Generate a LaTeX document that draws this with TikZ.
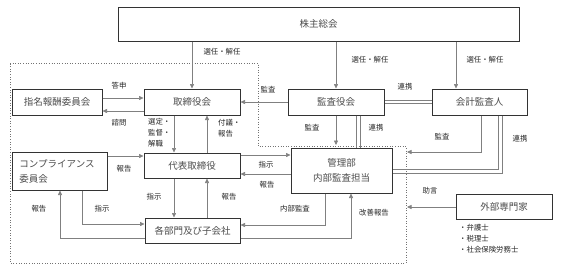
\documentclass[tikz,border=0pt]{standalone}
\usepackage{fontspec}
\setmainfont{Noto Sans CJK JP}
\usetikzlibrary{arrows.meta}
\tikzset{
  box/.style={draw=black!80, line width=1pt, inner sep=0pt, align=center, font=\fontsize{9.5}{15}\selectfont, text=black!70},
  lbl/.style={font=\fontsize{7.4}{11}\selectfont, text=black!85, inner sep=0pt},
  conn/.style={draw=black!50, line width=0.6pt},
  arr/.style={conn, -{Triangle[length=4.5pt,width=4pt]}},
  zone/.style={draw=black!55, dotted, line width=0.6pt}
}
\begin{document}
\begin{tikzpicture}[x=1pt,y=-1pt]
\useasboundingbox[fill=white] (0,0) rectangle (571,274);
% dotted zone
\draw[zone] (10,63) -- (258,63) -- (258,146) -- (406,146) -- (406,263) -- (10,263) -- cycle;
% boxes
\node[box, minimum width=401pt, minimum height=34pt] (sh) at (318.5,24) {株主総会};
\node[box, minimum width=90pt, minimum height=26pt] (nom) at (57,102) {指名報酬委員会};
\node[box, minimum width=96pt, minimum height=26pt] (bod) at (192,102) {取締役会};
\node[box, minimum width=96pt, minimum height=26pt] (kan) at (336,102) {監査役会};
\node[box, minimum width=95pt, minimum height=26pt] (acc) at (479.5,102) {会計監査人};
\node[box, minimum width=95pt, minimum height=38pt, align=left, text width=80pt] (comp) at (59.5,171) {コンプライアンス\\委員会};
\node[box, minimum width=96pt, minimum height=25pt] (ceo) at (192,165.5) {代表取締役};
\node[box, minimum width=95pt, minimum height=25pt] (dept) at (192.5,230.5) {各部門及び子会社};
\node[box, minimum width=101pt, minimum height=45pt] (mgmt) at (341.5,170.5) {管理部\\内部監査担当};
\node[box, minimum width=96pt, minimum height=25pt] (ext) at (504,206.5) {外部専門家};
\coordinate (zoneTop) at (336,145);
\coordinate (zoneR1) at (407,152);
\coordinate (zoneR2) at (407,207);
% shareholders
\draw[arr] (sh.south -| bod.north) -- (bod.north);
\draw[arr] (sh.south -| kan.north) -- (kan.north);
\draw[arr] ([xshift=-23.5pt]acc.north |- sh.south) -- ([xshift=-23.5pt]acc.north);
% nomination
\draw[arr] ([yshift=4pt]nom.east) -- ([yshift=4pt]bod.west);
\draw[arr] ([yshift=-9pt]bod.west) -- ([yshift=-9pt]nom.east);
% audit board
\draw[arr] (kan.west) -- (bod.east);
\draw[conn] ([yshift=1.5pt]kan.east) -- ([yshift=1.5pt]acc.west);
\draw[conn] ([yshift=-1.5pt]kan.east) -- ([yshift=-1.5pt]acc.west);
\draw[arr] (kan.south) -- (zoneTop);
\draw[conn] ([xshift=20pt]kan.south) -- ([xshift=20pt]kan.south |- mgmt.north);
\draw[conn] ([xshift=24pt]kan.south) -- ([xshift=24pt]kan.south |- mgmt.north);
% accounting auditor
\draw[arr] ([xshift=1.5pt]acc.south) |- (zoneR1);
\draw[conn] ([xshift=18.5pt]acc.south) |- ([yshift=1.5pt]mgmt.east);
\draw[conn] ([xshift=22.5pt]acc.south) |- ([yshift=-2.5pt]mgmt.east);
% external
\draw[arr] (ext.west |- zoneR2) -- (zoneR2);
% board <-> ceo
\draw[arr] ([xshift=-18pt]bod.south) -- ([xshift=-18pt]ceo.north);
\draw[arr] ([xshift=15pt]ceo.north) -- ([xshift=15pt]bod.south);
% ceo <-> mgmt
\draw[arr] ([yshift=10.5pt]ceo.east) -- ([yshift=15.5pt]mgmt.west);
\draw[arr] ([yshift=-3.5pt]mgmt.west) -- ([yshift=-8.5pt]ceo.east);
% ceo <-> dept
\draw[arr] ([xshift=-18pt]ceo.south) -- ([xshift=-18.5pt]dept.north);
\draw[arr] ([xshift=14.5pt]dept.north) -- ([xshift=15pt]ceo.south);
% mgmt <-> dept
\draw[arr] ([xshift=-16.5pt]mgmt.south) |- ([yshift=5.5pt]dept.east);
\draw[arr] ([yshift=-7.5pt]dept.east) -| ([xshift=9.5pt]mgmt.south);
% compliance
\draw[arr] ([yshift=15pt]comp.east) -- ([yshift=9.5pt]ceo.west);
\draw[arr] ([xshift=22.5pt]comp.south) |- ([yshift=6.5pt]dept.west);
\draw[arr] ([yshift=-7.5pt]dept.west) -| ([xshift=0.5pt]comp.south);
% labels
\node[lbl] (l1) at (222,52) {選任・解任};
\node[lbl] (l2) at (370,60) {選任・解任};
\node[lbl] (l3) at (485,60) {選任・解任};
\node[lbl] (l4) at (119,86) {答申};
\node[lbl] (l5) at (119,123) {諮問};
\node[lbl] (l6) at (268,90) {監査};
\node[lbl] (l7) at (405,87) {連携};
\node[lbl, align=left, anchor=north west] (l8) at (148,118) {選定・\\監督・\\解職};
\node[lbl, align=left, anchor=north west] (l9) at (218,119.5) {付議・\\報告};
\node[lbl] (l10) at (312,128) {監査};
\node[lbl] (l11) at (376,128) {連携};
\node[lbl] (l12) at (442,137) {監査};
\node[lbl] (l13) at (520,139) {連携};
\node[lbl] (l14) at (430,191) {助言};
\node[lbl] (l15) at (124,169) {報告};
\node[lbl] (l16) at (266,165) {指示};
\node[lbl] (l17) at (267,185) {報告};
\node[lbl] (l18) at (154,197) {指示};
\node[lbl] (l19) at (229,197) {報告};
\node[lbl] (l20) at (295,209) {内部監査};
\node[lbl] (l21) at (374,213) {改善報告};
\node[lbl] (l22) at (39,209) {報告};
\node[lbl] (l23) at (102,209) {指示};
\node[lbl, align=left, anchor=north west] (l24) at (459,224) {・弁護士\\・税理士\\・社会保険労務士};
\end{tikzpicture}
\end{document}
